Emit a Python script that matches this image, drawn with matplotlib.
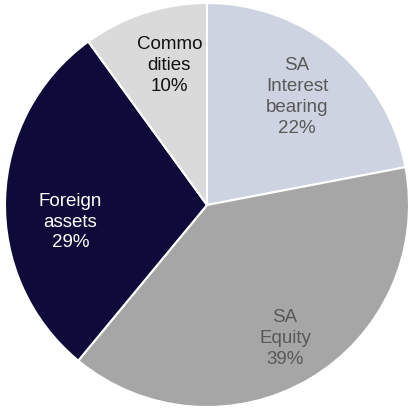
import numpy as np
import matplotlib.pyplot as plt

# Asset allocation split
labels = ['SA\nInterest\nbearing', 'SA\nEquity', 'Foreign\nassets', 'Commo\ndities']
shares = [22, 39, 29, 10]
colors = ['#CDD3E0', '#A6A6A6', '#0E0B3A', '#DADADA']
text_colors = ['#595959', '#595959', '#FFFFFF', '#111111']
label_dist = [0.70, 0.76, 0.68, 0.72]
label_shift = [0, 0, 8.5, -3]  # degrees, nudges label off the wedge middle

plt.rcParams['font.family'] = ['Liberation Sans', 'DejaVu Sans']

fig = plt.figure(figsize=(4.08, 4.10), dpi=100)
ax = fig.add_axes([0, 0, 1, 1])

wedges, _ = ax.pie(shares, colors=colors, startangle=90, counterclock=False,
                   radius=1.0, wedgeprops=dict(edgecolor='white', linewidth=1.5))

for w, lab, c, d, s, v in zip(wedges, labels, text_colors, label_dist, label_shift, shares):
    ang = np.deg2rad((w.theta1 + w.theta2) / 2 + s)
    ax.text(d * np.cos(ang), d * np.sin(ang), f'{lab}\n{v}%', ha='center', va='center',
            fontsize=13.5, color=c, linespacing=1.3)

r = 202.0
ax.set_xlim(-207 / r, (408 - 207) / r)
ax.set_ylim(-(410 - 206) / r, 206 / r)
ax.set_aspect('equal')
ax.axis('off')

fig.savefig('out.png', dpi=100)
